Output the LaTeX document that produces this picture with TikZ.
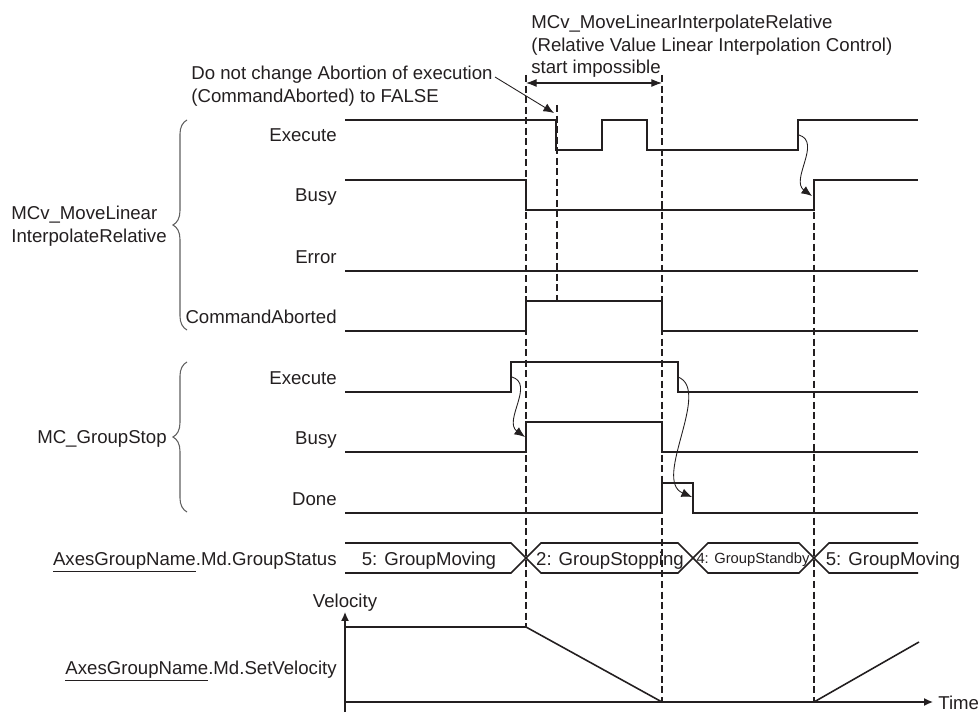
\documentclass[tikz,border=0pt]{standalone}
\usepackage{fontspec}
\setmainfont{Liberation Sans}
\usepackage{tikz}
\usetikzlibrary{calc,arrows.meta,decorations.pathreplacing,positioning}
\usepackage{xcolor}
\definecolor{timingdark}{RGB}{35,31,32}
\definecolor{timinggray}{RGB}{95,95,95}

\begin{document}
\begin{tikzpicture}[x=0.02cm,y=-0.02cm,
  signal/.style={timingdark,line width=1.1pt},
  guide/.style={timingdark,line width=0.6pt,dash pattern=on 4pt off 2pt},
  cause/.style={timingdark,line width=0.5pt,-{Latex[length=6pt,width=5pt]}},
  lbl/.style={font=\fontsize{10.6}{12.75}\selectfont,text=timingdark,inner sep=0pt},
  grpbrace/.style={timinggray,line width=0.6pt,decorate,decoration={brace,amplitude=8pt}}]
  \useasboundingbox (0,0) rectangle (978,713);

  \coordinate (lockL) at (526,83);
  \coordinate (lockR) at (662,83);
  \coordinate (noteTail) at (495,77);
  \coordinate (exeFall) at (554,113);

  \coordinate (mcvExeOn) at (799,135);
  \coordinate (mcvBusyOn) at (812,196);
  \coordinate (gsExeOn) at (512,377);
  \coordinate (gsBusyOn) at (525,437);
  \coordinate (gsExeOff) at (678,377);
  \coordinate (gsDoneOff) at (692,497);

  \coordinate (velO) at (345,702);
  \coordinate (velBot) at (345,712);
  \coordinate (velTop) at (345,612);
  \coordinate (timeEnd) at (933,702);

  % guides
  \draw[guide] (526,75) -- (526,627);
  \draw[guide] (557,105) -- (557,301);
  \draw[guide] (662,75) -- (662,702);
  \draw[guide] (814,212) -- (814,702);

  % MCv_MoveLinearInterpolateRelative
  \draw[signal] (345,120) -- (556,120) -- (556,150) -- (602,150) -- (602,120) -- (647,120) -- (647,150) -- (798,150) -- (798,120) -- (918,120);
  \draw[signal] (345,180) -- (526,180) -- (526,210) -- (814,210) -- (814,180) -- (918,180);
  \draw[signal] (345,271) -- (918,271);
  \draw[signal] (345,331) -- (526,331) -- (526,301) -- (662,301) -- (662,331) -- (918,331);

  % MC_GroupStop
  \draw[signal] (345,392) -- (511,392) -- (511,362) -- (678,362) -- (678,392) -- (918,392);
  \draw[signal] (345,452) -- (526,452) -- (526,422) -- (662,422) -- (662,452) -- (918,452);
  \draw[signal] (345,513) -- (662,513) -- (662,483) -- (693,483) -- (693,513) -- (918,513);

  % group status
  \draw[signal,line width=0.9pt] (345,543) -- (511,543) -- (541,573) -- (678,573) -- (708,543) -- (799,543) -- (829,573) -- (918,573);
  \draw[signal,line width=0.9pt] (345,573) -- (511,573) -- (541,543) -- (678,543) -- (708,573) -- (799,573) -- (829,543) -- (918,543);

  % velocity
  \draw[timingdark,line width=0.8pt,-{Latex[length=5pt,width=4.5pt]}] (velBot) -- (velTop);
  \draw[timingdark,line width=0.8pt,-{Latex[length=5pt,width=4.5pt]}] (velO) -- (timeEnd);
  \draw[signal,line width=0.9pt] (345,627) -- (526,627) -- (662,702) -- (814,702) -- (919,642);

  % causes
  \draw[cause] (mcvExeOn) .. controls (822,142) and (790,180) .. (mcvBusyOn);
  \draw[cause] (gsExeOn) .. controls (535,384) and (503,421) .. (gsBusyOn);
  \draw[cause] (gsExeOff) .. controls (712,390) and (652,480) .. (gsDoneOff);
  \draw[cause] (noteTail) -- (exeFall);
  \draw[timingdark,line width=0.6pt,{Latex[length=6pt,width=4.5pt]}-{Latex[length=6pt,width=4.5pt]}] (lockL) -- (lockR);

  % braces
  \draw[grpbrace] (187,330) -- (187,120);
  \draw[grpbrace] (187,512) -- (187,362);

  % labels
  \node[lbl,anchor=base east] (mcvExe) at (337,142) {Execute};
  \node[lbl,anchor=base east] (mcvBusy) at (337,202) {Busy};
  \node[lbl,anchor=base east] (mcvErr) at (337,263) {Error};
  \node[lbl,anchor=base east] (mcvAbort) at (337,323) {CommandAborted};
  \node[lbl,anchor=base east] (gsExe) at (337,384) {Execute};
  \node[lbl,anchor=base east] (gsBusy) at (337,444) {Busy};
  \node[lbl,anchor=base east] (gsDone) at (337,505) {Done};
  \node[lbl,anchor=east,align=left] (grpMcv) at (167,226) {MCv\_MoveLinear\\InterpolateRelative};
  \node[lbl,anchor=base east] (grpStop) at (167,443) {MC\_GroupStop};

  \node[lbl,anchor=base east] (statusLbl) at (337,565) {\underline{AxesGroupName}.Md.GroupStatus};
  \node[lbl,anchor=base] (st1) at (429,565) {5: GroupMoving};
  \node[lbl,anchor=base] (st2) at (610,565) {2: GroupStopping};
  \node[lbl,anchor=base,font=\fontsize{8.4}{10}\selectfont] (st3) at (753,563) {4: GroupStandby};
  \node[lbl,anchor=base] (st4) at (893,565) {5: GroupMoving};

  \node[lbl,anchor=base east] (setVelLbl) at (337,674) {\underline{AxesGroupName}.Md.SetVelocity};
  \node[lbl,anchor=base] (velLbl) at (345,607) {Velocity};
  \node[lbl,anchor=base west] (timeLbl) at (938,709) {Time};

  \node[lbl,anchor=north west,align=left] (noteStart) at (531,15) {MCv\_MoveLinearInterpolateRelative\\(Relative Value Linear Interpolation Control)\\start impossible};
  \node[lbl,anchor=north west,align=left] (noteAbort) at (191,66) {Do not change Abortion of execution\\(CommandAborted) to FALSE};
\end{tikzpicture}
\end{document}
